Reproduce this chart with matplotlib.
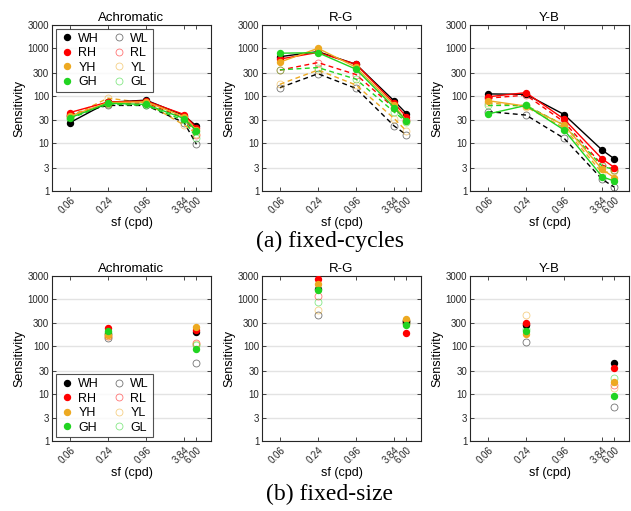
import matplotlib
matplotlib.use('Agg')
import matplotlib.pyplot as plt
from matplotlib.lines import Line2D
from matplotlib.colors import to_rgba

plt.rcParams['font.family'] = ['Liberation Sans', 'DejaVu Sans']

# ---------------- data ----------------
sf = [0.06, 0.24, 0.96, 3.84, 6.00]
sf_labels = ['0.06', '0.24', '0.96', '3.84', '6.00']
sf_size = [0.24, 6.00]
yticks = [1, 3, 10, 30, 100, 300, 1000, 3000]
ytick_labels = ['1', '3', '10', '30', '100', '300', '1000', '3000']
series = ['WH', 'RH', 'YH', 'GH', 'WL', 'RL', 'YL', 'GL']
panel_titles = ['Achromatic', 'R-G', 'Y-B']
captions = ['(a) fixed-cycles', '(b) fixed-size']

# fixed-cycles
fc_achromatic = {
    'WH': [27, 72, 80, 38, 23], 'RH': [44, 73, 77, 40, 21],
    'YH': [37, 71, 74, 36, 19], 'GH': [34, 69, 65, 33, 18],
    'WL': [40, 62, 62, 27, 9.5], 'RL': [38, 68, 70, 34, 15],
    'YL': [36, 88, 70, 24, 16], 'GL': [33, 66, 62, 30, 13],
}
fc_rg = {
    'WH': [650, 830, 450, 77, 42], 'RH': [580, 800, 450, 69, 36],
    'YH': [500, 975, 390, 63, 29], 'GH': [770, 790, 355, 56, 29],
    'WL': [146, 286, 141, 23, 15], 'RL': [340, 490, 275, 55, 30],
    'YL': [172, 342, 166, 33, 18], 'GL': [345, 385, 220, 45, 28],
}
fc_yb = {
    'WH': [108, 106, 40, 7.2, 4.7], 'RH': [94, 115, 32, 4.7, 3.1],
    'YH': [78, 60, 24, 2.85, 1.9], 'GH': [41, 62, 19, 2.0, 1.6],
    'WL': [46, 39, 12.7, 1.76, 1.2], 'RL': [88, 102, 28, 3.5, 2.8],
    'YL': [71, 58, 21, 2.4, 2.6], 'GL': [62, 62, 24, 3.3, 2.8],
}
# fixed-size
fs_achromatic = {
    'WH': [180, 200], 'RH': [240, 215], 'YH': [175, 250], 'GH': [205, 88],
    'WL': [150, 43], 'RL': [160, 115], 'YL': [165, 112], 'GL': [190, 105],
}
fs_rg = {
    'WH': [1575, 340], 'RH': [2650, 190], 'YH': [2080, 380], 'GH': [1500, 276],
    'WL': [447, 330], 'RL': [1120, 300], 'YL': [590, 360], 'GL': [850, 300],
}
fs_yb = {
    'WH': [276, 45], 'RH': [308, 34], 'YH': [184, 17.7], 'GH': [209, 9],
    'WL': [123, 5.3], 'RL': [290, 15], 'YL': [447, 12.8], 'GL': [225, 21],
}

colors = {'W': '#000000', 'R': '#ff0000', 'Y': '#EDA921', 'G': '#21d421'}
draw_order = ['WL', 'RL', 'YL', 'GL', 'WH', 'RH', 'YH', 'GH']

W, H = 631, 511
fig = plt.figure(figsize=(W / 100, H / 100), dpi=100)

lefts = [52, 262, 470]
aw = 159
rows = [(25, 191), (276, 441)]


def make_ax(col, row):
    t, b = rows[row]
    ax = fig.add_axes([lefts[col] / W, 1 - b / H, aw / W, (b - t) / H])
    return ax


def style(ax, title):
    ax.set_xscale('log')
    ax.set_yscale('log')
    ax.set_xlim(0.0313, 10.2)
    ax.set_ylim(1, 3000)
    ax.set_xticks(sf)
    ax.set_xticklabels(sf_labels, rotation=45, ha='right', rotation_mode='anchor')
    ax.set_yticks(yticks)
    ax.set_yticklabels(ytick_labels)
    ax.minorticks_off()
    ax.tick_params(direction='in', length=3, width=0.6, top=True, right=True,
                   labelsize=7, colors='#262626', pad=2)
    ax.tick_params(axis='x', pad=3)
    ax.grid(axis='y', color='#e3e3e3', linewidth=1.0)
    ax.set_axisbelow(True)
    for s in ax.spines.values():
        s.set_linewidth(0.8)
        s.set_color('#262626')
    ax.set_title(title, fontsize=9.5, pad=3)
    ax.set_ylabel('Sensitivity', fontsize=9, labelpad=2)
    ax.set_xlabel('sf (cpd)', fontsize=9, labelpad=1)


def plot_series(ax, xs, data, lines=True):
    for name in draw_order:
        c = colors[name[0]]
        vals = data[name]
        if name[1] == 'H':
            ax.plot(xs, vals, linestyle='-' if lines else 'none', color=c, lw=1.0,
                    marker='o', ms=4.3, mfc=c, mec=c, zorder=3)
        else:
            ax.plot(xs, vals, linestyle=(0, (3.5, 2.5)) if lines else 'none', color=c,
                    lw=1.0, marker='o', ms=5.0, mfc='none', mec=to_rgba(c, 0.55),
                    mew=0.6, zorder=2)


def add_legend(ax, loc):
    handles = []
    for name in series:
        c = colors[name[0]]
        if name[1] == 'H':
            h = Line2D([], [], linestyle='none', marker='o', ms=4.3, mfc=c, mec=c)
        else:
            h = Line2D([], [], linestyle='none', marker='o', ms=5.0, mfc='none',
                       mec=to_rgba(c, 0.55), mew=0.6)
        handles.append(h)
    leg = ax.legend(handles, series, ncol=2, loc=loc, fontsize=9, frameon=True,
                    fancybox=False, edgecolor='#262626', handletextpad=0.3,
                    columnspacing=1.0, borderpad=0.3, labelspacing=0.2,
                    handlelength=1.2, borderaxespad=0.3)
    leg.get_frame().set_linewidth(0.8)


fc_data = [fc_achromatic, fc_rg, fc_yb]
fs_data = [fs_achromatic, fs_rg, fs_yb]

for i in range(3):
    ax = make_ax(i, 0)
    style(ax, panel_titles[i])
    plot_series(ax, sf, fc_data[i], lines=True)
    if i == 0:
        add_legend(ax, 'upper left')

for i in range(3):
    ax = make_ax(i, 1)
    style(ax, panel_titles[i])
    plot_series(ax, sf_size, fs_data[i], lines=False)
    if i == 0:
        add_legend(ax, 'lower left')

fig.text(330 / W, 1 - 241 / H, captions[0], ha='center', va='center',
         fontsize=17, family='Liberation Serif')
fig.text(330 / W, 1 - 494 / H, captions[1], ha='center', va='center',
         fontsize=17, family='Liberation Serif')

fig.savefig('out.png', dpi=100)
